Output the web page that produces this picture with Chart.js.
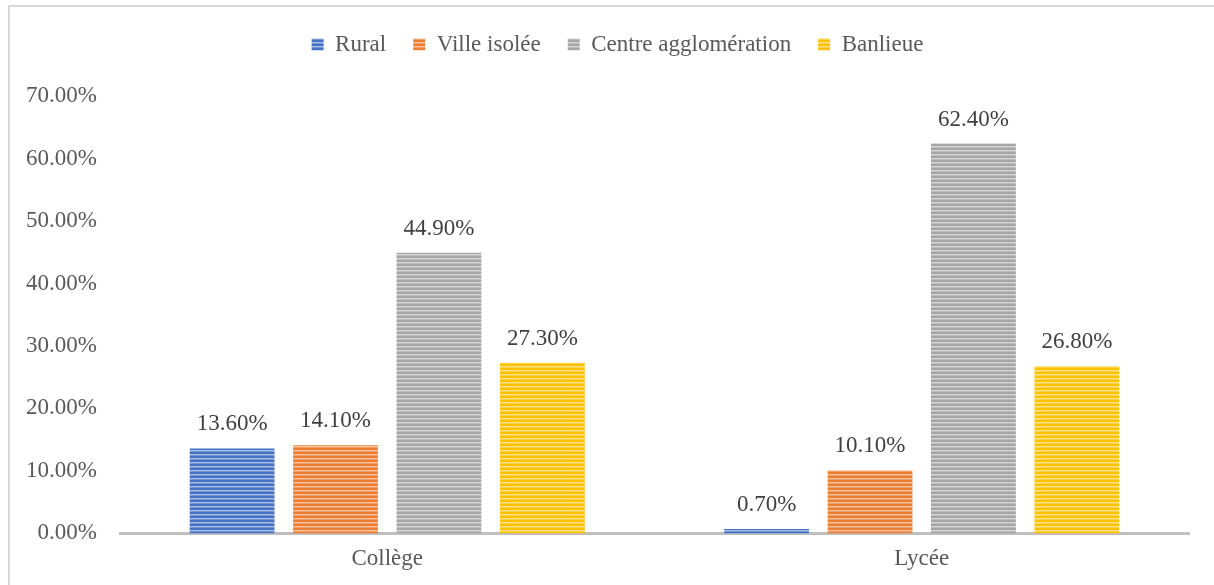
<!DOCTYPE html>
<html>
<head>
<meta charset="utf-8">
<script src="https://cdn.jsdelivr.net/npm/chart.js@4"></script>
<style>
  html, body { margin: 0; padding: 0; background: #fff; }
  #wrap { position: relative; width: 1214px; height: 585px; }
  #frame { position: absolute; left: 8px; top: 5px; width: 1220px; height: 600px;
           border-left: 2px solid #d9d9d9; border-top: 2px solid #d9d9d9; pointer-events: none; }
</style>
</head>
<body>
<div id="wrap">
  <canvas id="chart" width="1214" height="585"></canvas>
  <div id="frame"></div>
</div>
<script>
const categories = ["Collège", "Lycée"];
const seriesNames = ["Rural", "Ville isolée", "Centre agglomération", "Banlieue"];
const rural = [13.6, 0.7];
const villeIsolee = [14.1, 10.1];
const centreAgglo = [44.9, 62.4];
const banlieue = [27.3, 26.8];
const colors = ["#4472C4", "#ED7D31", "#A5A5A5", "#FFC000"];

// horizontal stripes like the Excel pattern fill
function stripes(color) {
  const c = document.createElement("canvas");
  c.width = 4; c.height = 4;
  const g = c.getContext("2d");
  g.fillStyle = color;
  g.fillRect(0, 0, 4, 4);
  g.fillStyle = "rgba(255,255,255,0.55)";
  g.fillRect(0, 2, 4, 1);
  g.fillStyle = "rgba(255,255,255,0.25)";
  g.fillRect(0, 3, 4, 1);
  return g.createPattern(c, "repeat");
}

const font = "'Liberation Serif', 'Times New Roman', serif";
const fontSize = 23;

const valueLabels = {
  id: "valueLabels",
  afterDatasetsDraw(chart) {
    const ctx = chart.ctx;
    ctx.save();
    ctx.font = fontSize + "px " + font;
    ctx.fillStyle = "#404040";
    ctx.textAlign = "center";
    ctx.textBaseline = "middle";
    chart.data.datasets.forEach((ds, i) => {
      chart.getDatasetMeta(i).data.forEach((bar, j) => {
        ctx.fillText(ds.data[j].toFixed(2) + "%", bar.x, bar.y - 24);
      });
    });
    ctx.restore();
  }
};

// extra room under the legend, and legend nudged right like the original
const legendGap = {
  id: "legendGap",
  beforeInit(chart) {
    const fit = chart.legend.fit;
    chart.legend.fit = function () {
      fit.bind(chart.legend)();
      this.height += 30;
    };
  },
  afterLayout(chart) {
    chart.legend.left += 23;
    chart.legend.right += 23;
  }
};

const allSeries = [rural, villeIsolee, centreAgglo, banlieue];

new Chart(document.getElementById("chart"), {
  type: "bar",
  data: {
    labels: categories,
    datasets: allSeries.map((d, i) => ({
      label: seriesNames[i],
      data: d,
      backgroundColor: stripes(colors[i]),
      borderColor: colors[i],
      borderWidth: 0,
      categoryPercentage: 0.774,
      barPercentage: 0.82
    }))
  },
  options: {
    responsive: false,
    animation: false,
    layout: { padding: { top: 6, right: 25, bottom: 8, left: 0 } },
    plugins: {
      legend: {
        position: "top",
        labels: {
          font: { family: font, size: fontSize },
          color: "#595959",
          boxWidth: 12,
          boxHeight: 12,
          padding: 27
        }
      },
      tooltip: { enabled: false }
    },
    scales: {
      x: {
        grid: { display: false },
        border: { color: "#bfbfbf", width: 3 },
        ticks: { font: { family: font, size: fontSize }, color: "#595959", padding: 4 }
      },
      y: {
        min: 0,
        max: 70,
        grid: { display: false },
        border: { display: false },
        ticks: {
          stepSize: 10,
          padding: 15,
          font: { family: font, size: fontSize },
          color: "#595959",
          callback: v => v.toFixed(2) + "%"
        },
        afterFit: s => { s.width = 120; }
      }
    }
  },
  plugins: [valueLabels, legendGap]
});
</script>
</body>
</html>
